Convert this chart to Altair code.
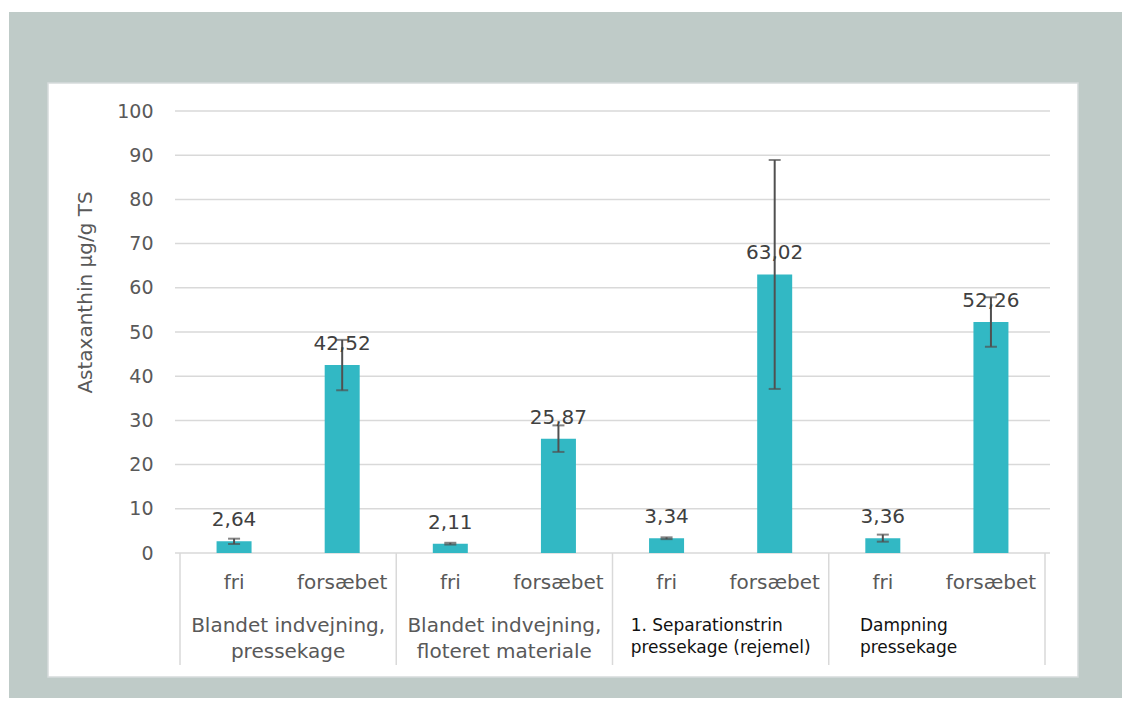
import altair as alt
import pandas as pd

# ---- data ----
groups = [
    "Blandet indvejning,\npressekage",
    "Blandet indvejning,\nfloteret materiale",
    "1. Separationstrin\npressekage (rejemel)",
    "Dampning\npressekage",
]
subgroups = ["fri", "forsæbet"]
values = [2.64, 42.52, 2.11, 25.87, 3.34, 63.02, 3.36, 52.26]
errors = [0.6, 5.7, 0.2, 3.0, 0.2, 25.9, 0.8, 5.6]
y_ticks = list(range(0, 101, 10))
y_title = "Astaxanthin µg/g TS"

n_sub = len(subgroups)
rows = []
for i, v in enumerate(values):
    rows.append({
        "idx": i,
        "sub": subgroups[i % n_sub],
        "value": v,
        "lo": v - errors[i],
        "hi": v + errors[i],
        "label": f"{v:.2f}".replace(".", ","),
    })
df = pd.DataFrame(rows)
gdf = pd.DataFrame({"group": groups,
                    "center": [g * n_sub + (n_sub - 1) / 2 for g in range(len(groups))]})
sep = pd.DataFrame({"pos": [g * n_sub - 0.5 for g in range(len(groups) + 1)]})
grid = pd.DataFrame({"tick": y_ticks})
one = pd.DataFrame({"k": [0]})

# ---- style ----
W, H = 875, 442
FONT = "DejaVu Sans"
BAR = "#32B8C4"
GRID = "#d9d9d9"
TXT = "#595959"
BG = "#bfcbc8"

xs = alt.Scale(domain=[-0.5, len(values) - 0.5], nice=False, zero=False)
ys = alt.Scale(domain=[0, 100], nice=False)
y_axis = alt.Axis(values=y_ticks, grid=False, domain=False, ticks=False,
                  labelPadding=22, labelFont=FONT, labelFontSize=19, labelColor=TXT,
                  title=y_title, titleFont=FONT, titleFontSize=20, titleFontWeight="normal",
                  titleColor=TXT, titleX=-90, titleY=181, titleAngle=270,
                  titleAlign="center", titleBaseline="middle", zindex=1)

X = lambda f: alt.X(f, scale=xs, axis=None)
Y = lambda f: alt.Y(f, scale=ys, axis=y_axis)

bg = alt.Chart(one).mark_rect(color=BG).encode(
    x=alt.value(-166), x2=alt.value(955), y=alt.value(-99), y2=alt.value(595))
panel = alt.Chart(one).mark_rect(fill="white", stroke="#d6dcdb", strokeWidth=1.5).encode(
    x=alt.value(-127), x2=alt.value(903), y=alt.value(-28), y2=alt.value(566))

gridlines = alt.Chart(grid).mark_rule(color=GRID, strokeWidth=1.5).encode(
    y=Y("tick:Q"), x=alt.value(0), x2=alt.value(W))
seps = alt.Chart(sep).mark_rule(color=GRID, strokeWidth=1.5).encode(
    x=X("pos:Q"), y=alt.value(H), y2=alt.value(H + 112))

bars = alt.Chart(df).mark_bar(color=BAR, width=35).encode(x=X("idx:Q"), y=Y("value:Q"))
err = alt.Chart(df).mark_rule(color="#505050", strokeWidth=2).encode(
    x=X("idx:Q"), y=Y("lo:Q"), y2="hi:Q")
cap_lo = alt.Chart(df).mark_tick(orient="horizontal", size=12, thickness=2, color="#505050").encode(
    x=X("idx:Q"), y=Y("lo:Q"))
cap_hi = alt.Chart(df).mark_tick(orient="horizontal", size=12, thickness=2, color="#505050").encode(
    x=X("idx:Q"), y=Y("hi:Q"))
labels = alt.Chart(df).mark_text(font=FONT, fontSize=20, color="#404040",
                                 baseline="alphabetic", dy=-15).encode(
    x=X("idx:Q"), y=Y("value:Q"), text="label:N")
sublabels = alt.Chart(df).mark_text(font=FONT, fontSize=20, color=TXT, baseline="alphabetic").encode(
    x=X("idx:Q"), y=alt.value(478), text="sub:N")

g_center = alt.Chart(gdf.iloc[:2]).mark_text(
    font=FONT, fontSize=20, color=TXT, align="center", baseline="alphabetic",
    lineBreak="\n", lineHeight=26).encode(x=X("center:Q"), y=alt.value(521), text="group:N")
g_left3 = alt.Chart(gdf.iloc[2:3]).mark_text(
    font=FONT, fontSize=17, color="#111111", align="left", baseline="alphabetic",
    lineBreak="\n", lineHeight=22, dx=-90).encode(x=X("center:Q"), y=alt.value(520), text="group:N")
g_left4 = alt.Chart(gdf.iloc[3:4]).mark_text(
    font=FONT, fontSize=17, color="#111111", align="left", baseline="alphabetic",
    lineBreak="\n", lineHeight=22, dx=-77).encode(x=X("center:Q"), y=alt.value(520), text="group:N")

chart = alt.layer(
    bg, panel, gridlines, seps, bars, err, cap_lo, cap_hi, labels, sublabels,
    g_center, g_left3, g_left4
).properties(
    width=W, height=H,
    autosize=alt.AutoSizeParams(type="none"),
    padding={"left": 167, "top": 103, "right": 72, "bottom": 145},
    background="white",
).configure_view(stroke=None)

chart.save("out.html", embed_options={"renderer": "svg", "actions": False})
